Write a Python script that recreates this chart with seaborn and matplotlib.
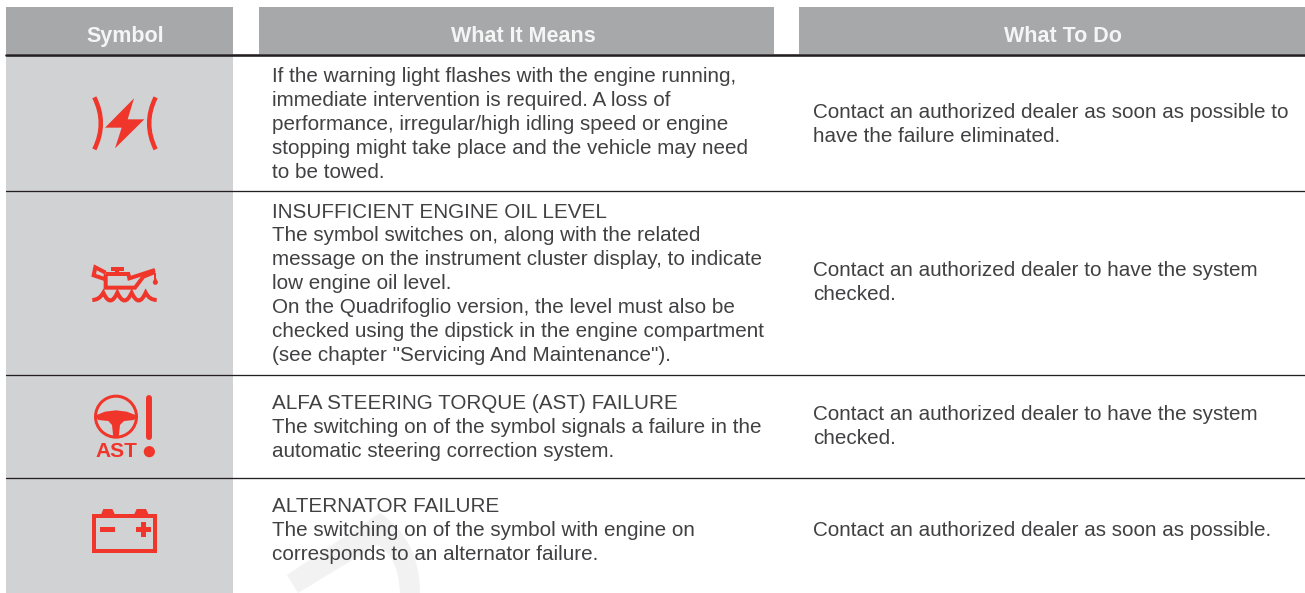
import seaborn as sns
import matplotlib.pyplot as plt
from matplotlib.patches import Rectangle, Polygon, Circle, PathPatch
from matplotlib.path import Path

sns.set_theme(style='white')
plt.rcParams['font.family'] = ['Liberation Sans', 'DejaVu Sans']

headers = ['Symbol', 'What It Means', 'What To Do']

means = [
    ['If the warning light flashes with the engine running,',
     'immediate intervention is required. A loss of',
     'performance, irregular/high idling speed or engine',
     'stopping might take place and the vehicle may need',
     'to be towed.'],
    ['INSUFFICIENT ENGINE OIL LEVEL',
     'The symbol switches on, along with the related',
     'message on the instrument cluster display, to indicate',
     'low engine oil level.',
     'On the Quadrifoglio version, the level must also be',
     'checked using the dipstick in the engine compartment',
     '(see chapter "Servicing And Maintenance").'],
    ['ALFA STEERING TORQUE (AST) FAILURE',
     'The switching on of the symbol signals a failure in the',
     'automatic steering correction system.'],
    ['ALTERNATOR FAILURE',
     'The switching on of the symbol with engine on',
     'corresponds to an alternator failure.'],
]
todo = [
    ['Contact an authorized dealer as soon as possible to',
     'have the failure eliminated.'],
    ['Contact an authorized dealer to have the system',
     'checked.'],
    ['Contact an authorized dealer to have the system',
     'checked.'],
    ['Contact an authorized dealer as soon as possible.'],
]

# layout, everything in reference pixels, text y is the baseline
W, H = 1305, 593
col_spans = [(6, 233), (259, 774), (799, 1305)]
header_x = [125, 523, 1063]
row_rules = [191, 375, 478]
means_y = [82, 217.5, 409, 512.5]
todo_y = [118, 276.5, 420.5, 536.5]
line_h = 23.9
RED = '#f0352a'
TXT = '#414143'

fig = plt.figure(figsize=(W / 100, H / 100), dpi=100)
ax = fig.add_axes([0, 0, 1, 1])
ax.set_xlim(0, W)
ax.set_ylim(H, 0)
ax.axis('off')


def px(v):
    return v * 0.72


def zpts(origin, pts):
    return [(origin[0] + x / 3, origin[1] + y / 3) for x, y in pts]


def stroke(origin, pts, lw, cap='butt', curve=False):
    p = zpts(origin, pts)
    if curve:
        codes = [Path.MOVETO] + [Path.CURVE3] * (len(p) - 1)
        ax.add_patch(PathPatch(Path(p, codes), fill=False, ec=RED, lw=px(lw), capstyle=cap, zorder=5))
    else:
        ax.plot(*zip(*p), color=RED, lw=px(lw), solid_capstyle=cap, solid_joinstyle='miter', zorder=5)


def solid(origin, pts):
    ax.add_patch(Polygon(zpts(origin, pts), closed=True, fc=RED, ec='none', zorder=5))


# watermark behind the last row
ax.add_patch(PathPatch(Path(
    [(287, 575), (380, 513), (420, 540), (420, 593), (400, 593), (398, 555), (377, 545), (298, 593), (287, 575)],
    [Path.MOVETO, Path.LINETO, Path.CURVE3, Path.CURVE3, Path.LINETO, Path.CURVE3, Path.CURVE3, Path.LINETO, Path.CLOSEPOLY]),
    fc='#f2f2f3', ec='none', zorder=0))

# header bands and symbol column
for (x0, x1), cx, name in zip(col_spans, header_x, headers):
    ax.add_patch(Rectangle((x0, 7), x1 - x0, 47, fc='#a7a8aa', ec='none', zorder=1))
    ax.text(cx, 42, name, color='#f5f5f5', fontsize=15.5, fontweight='bold',
            ha='center', va='baseline', zorder=6)
ax.add_patch(Rectangle((6, 55), 227, H - 55, fc='#d1d2d4', ec='none', zorder=1))

# rules
sns.lineplot(x=[6, W], y=[55, 55], color='#231f20', lw=px(2.6), ax=ax, zorder=3, errorbar=None)
for y in row_rules:
    sns.lineplot(x=[6, W], y=[y, y], color='#231f20', lw=px(1.3), ax=ax, zorder=3, errorbar=None)

# body text
for lines, y0 in zip(means, means_y):
    for i, s in enumerate(lines):
        ax.text(272, y0 + i * line_h, s, color=TXT, fontsize=14.9, ha='left', va='baseline', zorder=4)
for lines, y0 in zip(todo, todo_y):
    for i, s in enumerate(lines):
        ax.text(813, y0 + i * line_h, s, color=TXT, fontsize=14.9, ha='left', va='baseline', zorder=4)

# flash icon
o = (60, 80)
solid(o, [(222, 55), (135, 143), (185, 143), (165, 205), (253, 118), (203, 118)])
stroke(o, [(103, 52), (142, 130), (103, 208)], 4.5, curve=True)
stroke(o, [(287, 52), (248, 130), (287, 208)], 4.5, curve=True)

# oil can icon
o = (60, 250)
stroke(o, [(137, 72), (137, 113), (225, 113), (250, 80), (285, 66)], 4)
stroke(o, [(137, 72), (205, 72), (208, 85), (285, 60)], 4)
stroke(o, [(137, 68), (106, 52), (101, 76), (137, 88)], 4)
stroke(o, [(172, 56), (172, 72)], 4)
stroke(o, [(153, 56), (192, 56)], 4)
stroke(o, [(286, 68), (286, 90)], 2)
ax.add_patch(Circle(zpts(o, [(286, 97)])[0], 2.5, fc=RED, ec='none', zorder=5))
solid(o, [(286, 78), (279, 97), (293, 97)])
peaks = [130, 172, 215, 257]
verts = [(97, 150), (118, 150), (130, 128)]
codes = [Path.MOVETO, Path.CURVE3, Path.CURVE3]
for a, b in zip(peaks[:-1], peaks[1:]):
    verts += [((a + b) / 2, 175), (b, 128)]
    codes += [Path.CURVE3, Path.CURVE3]
verts += [(268, 150), (290, 150)]
codes += [Path.CURVE3, Path.CURVE3]
ax.add_patch(PathPatch(Path(zpts(o, verts), codes), fill=False, ec=RED, lw=px(4), zorder=5))

# AST icon
o = (60, 385)
ax.add_patch(Circle(zpts(o, [(168, 95)])[0], 20.5, fill=False, ec=RED, lw=px(3), zorder=5))
solid(o, [(105, 92), (135, 80), (168, 76), (200, 80), (232, 92), (222, 105), (192, 108),
          (180, 120), (176, 157), (160, 157), (156, 120), (145, 108), (115, 105)])
ax.text(*zpts(o, [(168, 215)])[0], 'AST', color=RED, fontsize=15, fontweight='bold', ha='center', va='baseline', zorder=5)
stroke(o, [(267, 38), (267, 155)], 6, cap='round')
ax.add_patch(Circle(zpts(o, [(268, 200)])[0], 5.6, fc=RED, ec='none', zorder=5))

# battery icon
solid(o, [(123, 389), (130, 372), (157, 372), (165, 389)])
solid(o, [(222, 389), (230, 372), (258, 372), (266, 389)])
x0, y0 = zpts(o, [(102, 393)])[0]
ax.add_patch(Rectangle((x0, y0), 60.7, 34.7, fill=False, ec=RED, lw=px(4), zorder=5))
solid(o, [(120, 425), (165, 425), (165, 441), (120, 441)])
solid(o, [(228, 425), (273, 425), (273, 441), (228, 441)])
solid(o, [(243, 410), (259, 410), (259, 456), (243, 456)])

plt.savefig('out.png', dpi=100)
